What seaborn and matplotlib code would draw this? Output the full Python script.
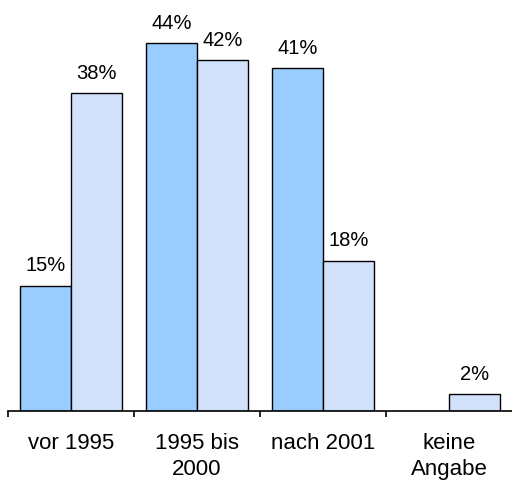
import numpy as np
import pandas as pd
import matplotlib
matplotlib.use("Agg")
import matplotlib.pyplot as plt
import seaborn as sns

# categories and the two series (percent)
kategorien = ["vor 1995", "1995 bis\n2000", "nach 2001", "keine\nAngabe"]
reihe1 = [15, 44, 41, np.nan]
reihe2 = [38, 42, 18, 2]
reihen = ["Reihe 1", "Reihe 2"]
farben = ["#99CCFF", "#D1E1F9"]

df = pd.DataFrame({
    "Kategorie": kategorien * 2,
    "Anteil": reihe1 + reihe2,
    "Reihe": [reihen[0]] * 4 + [reihen[1]] * 4,
})

sns.set_style("white")
plt.rcParams["font.family"] = ["Liberation Sans", "DejaVu Sans"]
plt.rcParams["text.color"] = "black"
plt.rcParams["xtick.color"] = "black"

fig = plt.figure(figsize=(5.12, 4.85), dpi=100)
ax = fig.add_axes([8 / 512, 73 / 485, 504 / 512, 412 / 485])

sns.barplot(data=df, x="Kategorie", y="Anteil", hue="Reihe", hue_order=reihen,
            palette=farben, width=0.81, edgecolor="black", linewidth=1.0,
            saturation=1, legend=False, ax=ax)

for cont in ax.containers:
    ax.bar_label(cont, fmt="%.0f%%", padding=8, fontsize=14.5, color="black")

ax.set_xlim(-0.5, 3.5)
ax.set_ylim(0, 412 / 8.36)
ax.set_xlabel("")
ax.set_ylabel("")
ax.set_yticks([])
for s in ["top", "right", "left"]:
    ax.spines[s].set_visible(False)
ax.spines["bottom"].set_linewidth(1.2)
ax.spines["bottom"].set_color("black")

ax.set_xticks(range(len(kategorien)))
ax.set_xticklabels(kategorien, fontsize=16, linespacing=1.35, color="black")
ax.tick_params(axis="x", which="major", length=0, pad=15)
ax.set_xticks([-0.5, 0.5, 1.5, 2.5], minor=True)
ax.tick_params(axis="x", which="minor", length=4.5, width=1.2, color="black",
               direction="out", bottom=True)

fig.savefig("out.png", dpi=100)
